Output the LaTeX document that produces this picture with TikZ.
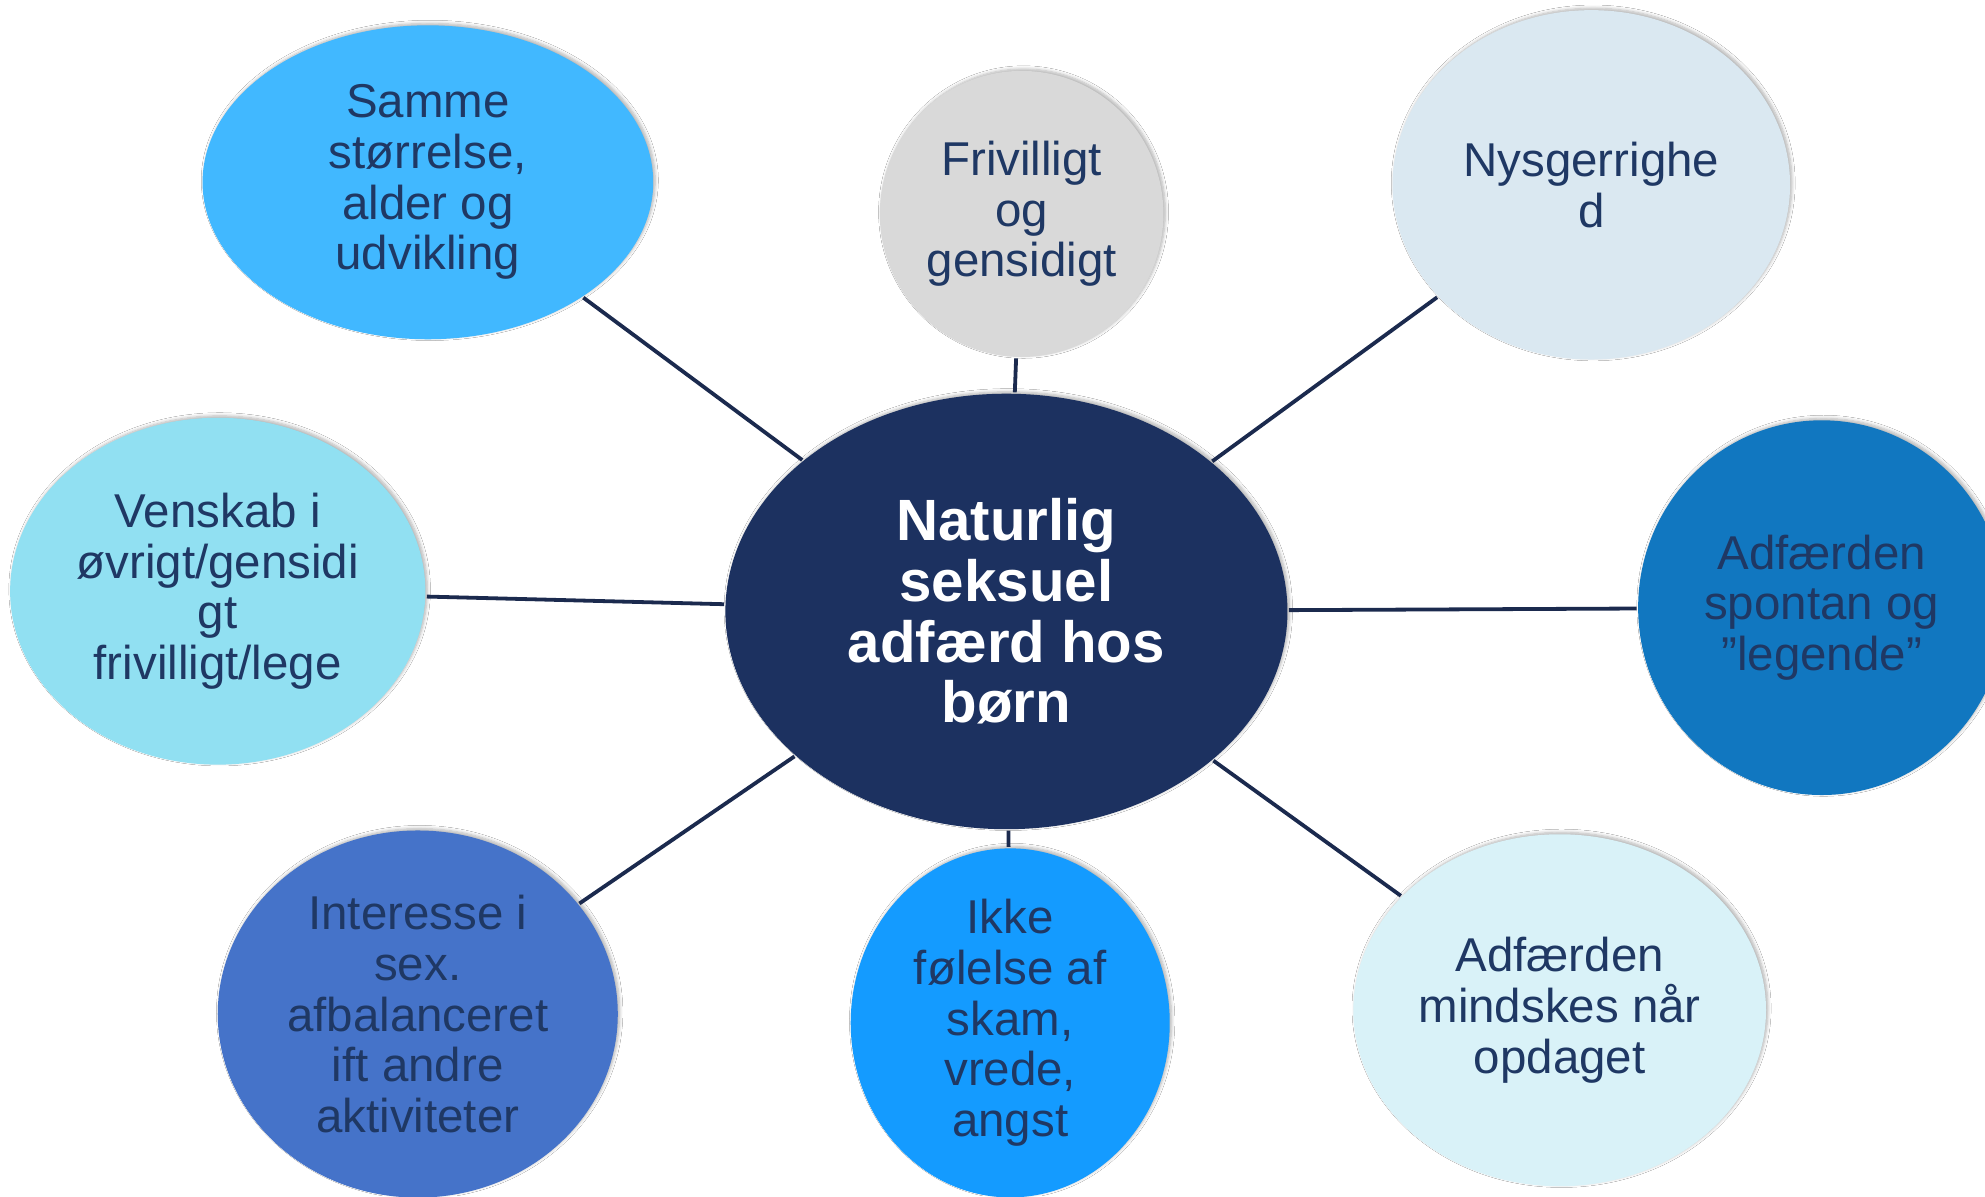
\documentclass[tikz,border=0pt]{standalone}
\usepackage{fontspec}
\setmainfont{Liberation Sans}
\usetikzlibrary{shapes.geometric,shadows.blur}
\definecolor{navy}{HTML}{1C3160}
\definecolor{txt}{HTML}{1F3864}
\definecolor{linec}{HTML}{1B2A4E}
\definecolor{cSamme}{HTML}{41B8FF}
\definecolor{cFriv}{HTML}{D9D9D9}
\definecolor{cNysg}{HTML}{DAE8F1}
\definecolor{cVensk}{HTML}{91E0F2}
\definecolor{cSpont}{HTML}{1177C0}
\definecolor{cInter}{HTML}{4573C9}
\definecolor{cIkke}{HTML}{149BFF}
\definecolor{cMind}{HTML}{D9F2F8}
\tikzset{
  softshadow/.style={blur shadow={shadow xshift=1.5pt, shadow yshift=1.5pt, shadow blur radius=2.5pt, shadow blur steps=6, shadow opacity=30}},
  bubble/.style={ellipse, inner sep=0pt, align=center, text=txt,
    font=\fontsize{37.5}{40}\selectfont, softshadow},
  hub/.style={ellipse, inner sep=0pt, align=center, text=white, fill=navy,
    font=\fontsize{46}{48}\selectfont\bfseries, softshadow},
  link/.style={draw=linec, line width=3pt, shorten <=1pt, shorten >=1pt}
}
\begin{document}
\begin{tikzpicture}[x=1pt,y=-1pt]
\useasboundingbox (0,0) rectangle (1568,945);
\fill[white] (0,0) rectangle (1568,945);
\node[hub, minimum width=444pt, minimum height=344pt] (c) at (795,483) {Naturlig\\seksuel\\adfærd hos\\børn};
\node[bubble, fill=cSamme, minimum width=356pt, minimum height=248pt] (s) at (338,144) {Samme\\størrelse,\\alder og\\udvikling};
\node[bubble, fill=cFriv, minimum width=224pt, minimum height=226pt] (f) at (807,169) {Frivilligt\\og\\gensidigt};
\node[bubble, fill=cNysg, minimum width=314pt, minimum height=276pt] (n) at (1257,146) {Nysgerrighe\\d};
\node[bubble, fill=cVensk, minimum width=328pt, minimum height=274pt] (v) at (172,467) {Venskab i\\øvrigt/gensidi\\gt\\frivilligt/lege};
\node[bubble, fill=cSpont, minimum width=290pt, minimum height=296pt] (a) at (1439,480) {Adfærden\\spontan og\\”legende”};
\node[bubble, fill=cInter, minimum width=316pt, minimum height=290pt] (i) at (330,801) {Interesse i\\sex.\\afbalanceret\\ift andre\\aktiviteter};
\node[bubble, fill=cIkke, minimum width=252pt, minimum height=248pt] (k) at (798,808) {Ikke\\følelse af\\skam,\\vrede,\\angst};
\node[bubble, fill=cMind, minimum width=326pt, minimum height=278pt] (m) at (1232,798) {Adfærden\\mindskes når\\opdaget};
\draw[link] (s) -- (c);
\draw[link] (f) -- (c);
\draw[link] (n) -- (c);
\draw[link] (v) -- (c);
\draw[link] (a) -- (c);
\draw[link] (i) -- (c);
\draw[link] (k) -- (c);
\draw[link] (m) -- (c);
\end{tikzpicture}
\end{document}
